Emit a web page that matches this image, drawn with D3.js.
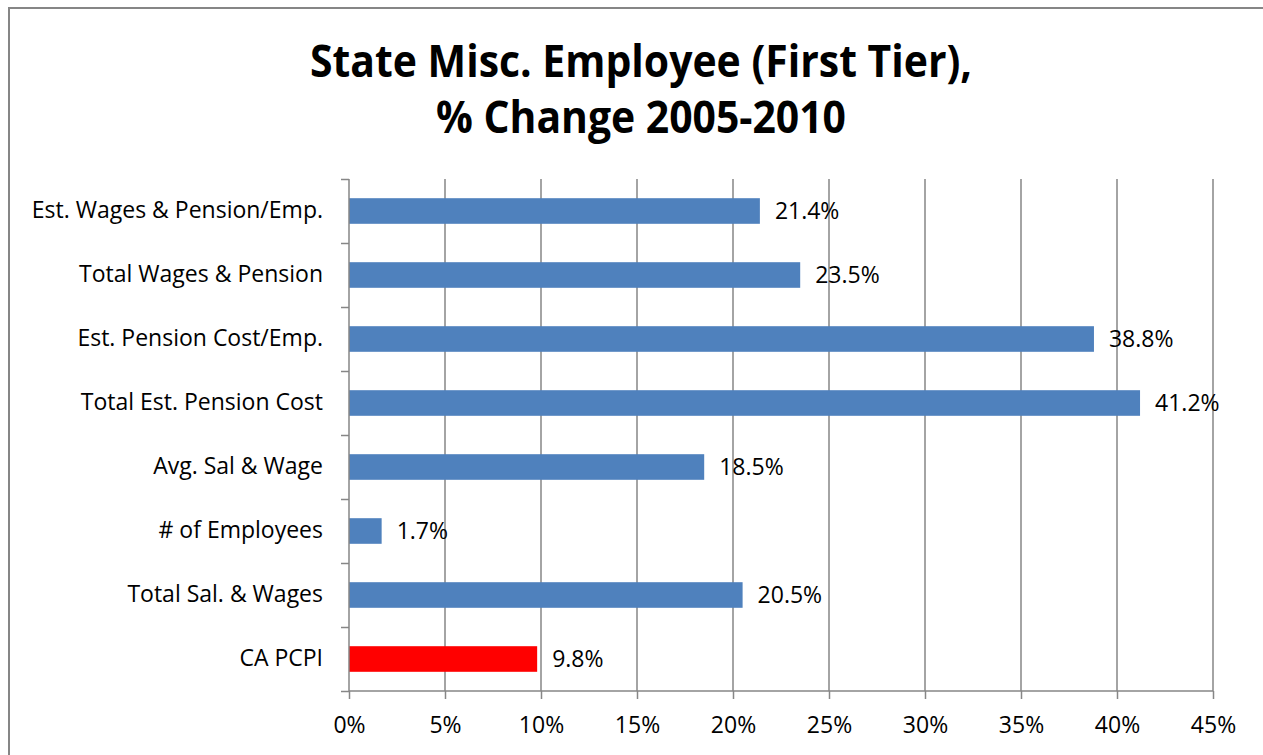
<!DOCTYPE html>
<html>
<head>
<meta charset="utf-8">
<script src="https://cdn.jsdelivr.net/npm/d3@7"></script>
<style>
  body { margin: 0; background: #fff; }
  svg text { font-family: "Open Sans", sans-serif; }
</style>
</head>
<body>
<div id="chart"></div>
<script>
const categories = [
    "Est. Wages & Pension/Emp.",
    "Total Wages & Pension",
    "Est. Pension Cost/Emp.",
    "Total Est. Pension Cost",
    "Avg. Sal & Wage",
    "# of Employees",
    "Total Sal. & Wages",
    "CA PCPI"
];
const values = [21.4, 23.5, 38.8, 41.2, 18.5, 1.7, 20.5, 9.8];
const barColors = ["#4F81BD", "#4F81BD", "#4F81BD", "#4F81BD", "#4F81BD", "#4F81BD", "#4F81BD", "#FF0000"];
const xTicks = [0, 5, 10, 15, 20, 25, 30, 35, 40, 45];
const titleLines = ["State Misc. Employee (First Tier),", "% Change 2005-2010"];

const W = 1263, H = 755;
const margin = {top: 179, right: 50, bottom: 64, left: 349};
const width = 1213 - margin.left;
const height = 691 - margin.top;

const data = categories.map((c, i) => ({cat: c, val: values[i], color: barColors[i]}));

const svg = d3.select("#chart")
    .append("svg")
    .attr("width", W)
    .attr("height", H);

// outer chart border (runs off the right / bottom edges)
svg.append("rect")
    .attr("x", 9)
    .attr("y", 8)
    .attr("width", 1300)
    .attr("height", 800)
    .attr("fill", "none")
    .attr("stroke", "#868686")
    .attr("stroke-width", 2);

// title, two lines, widths
const titleWidths = [662, 410];
svg.selectAll(".title")
    .data(titleLines)
    .enter()
    .append("text")
    .attr("class", "title")
    .attr("x", 641)
    .attr("y", (d, i) => 77 + i * 56)
    .attr("text-anchor", "middle")
    .attr("textLength", (d, i) => titleWidths[i])
    .attr("lengthAdjust", "spacingAndGlyphs")
    .style("font-size", "44px")
    .style("font-weight", "bold")
    .text(d => d);

const g = svg.append("g")
    .attr("transform", "translate(" + margin.left + "," + margin.top + ")");

const x = d3.scaleLinear()
    .domain([0, 45])
    .range([0, width]);

const y = d3.scaleBand()
    .domain(categories)
    .range([0, height])
    .paddingInner(0.6)
    .paddingOuter(0.3);

// vertical gridlines
g.selectAll(".grid")
    .data(xTicks.slice(1))
    .enter()
    .append("line")
    .attr("class", "grid")
    .attr("x1", d => x(d))
    .attr("x2", d => x(d))
    .attr("y1", 0)
    .attr("y2", height)
    .attr("stroke", "#868686")
    .attr("stroke-width", 1.5);

// bars
g.selectAll(".bar")
    .data(data)
    .enter()
    .append("rect")
    .attr("class", "bar")
    .attr("x", 0)
    .attr("y", d => y(d.cat))
    .attr("height", y.bandwidth())
    .attr("width", d => x(d.val))
    .attr("fill", d => d.color);

// value labels
g.selectAll(".label")
    .data(data)
    .enter()
    .append("text")
    .attr("class", "label")
    .attr("x", d => x(d.val) + 15)
    .attr("y", d => y(d.cat) + y.bandwidth() / 2)
    .attr("dy", ".36em")
    .style("font-size", "23px")
    .style("fill", "#000")
    .text(d => d.val.toFixed(1) + "%");

// x axis
const xAxis = d3.axisBottom(x)
    .tickValues(xTicks)
    .tickSize(8)
    .tickPadding(18)
    .tickFormat(d => d + "%");

const xg = g.append("g")
    .attr("transform", "translate(0," + height + ")")
    .call(xAxis);
xg.selectAll("path, line").attr("stroke", "#868686").attr("stroke-width", 1.5);
xg.select(".domain").attr("d", "M0,0H" + width);
xg.selectAll("text").style("font-size", "23px").style("fill", "#000").style("font-family", null);

// y axis: ticks on band edges
const yEdge = d3.scaleLinear()
    .domain([0, categories.length])
    .range([0, height]);
const yTickAxis = d3.axisLeft(yEdge)
    .tickValues(d3.range(categories.length + 1))
    .tickSize(8)
    .tickFormat("");
const yg = g.append("g").call(yTickAxis);
yg.selectAll("path, line").attr("stroke", "#868686").attr("stroke-width", 1.5);
yg.select(".domain").attr("d", "M0,0V" + height);

// y category labels
const yLab = g.append("g")
    .call(d3.axisLeft(y).tickSize(0).tickPadding(26));
yLab.select(".domain").remove();
yLab.selectAll("text").style("font-size", "23px").style("fill", "#000").style("font-family", null);
</script>
</body>
</html>
